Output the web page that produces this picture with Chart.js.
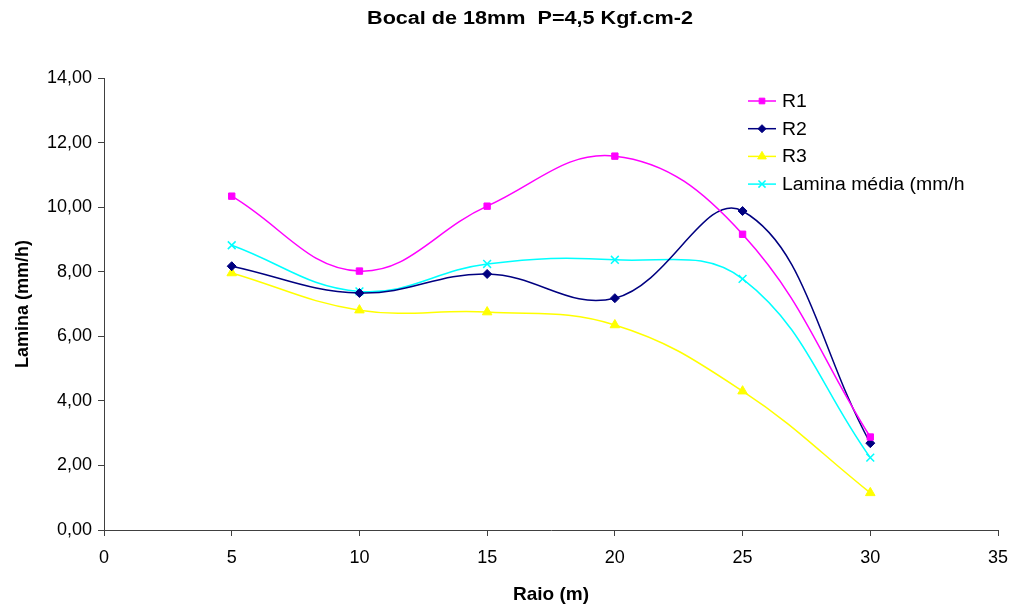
<!DOCTYPE html>
<html>
<head>
<meta charset="utf-8">
<script src="https://cdn.jsdelivr.net/npm/chart.js@4/dist/chart.umd.min.js"></script>
<style>
  html, body { margin: 0; padding: 0; background: #fff; }
  #wrap { width: 1016px; height: 608px; position: relative; }
</style>
</head>
<body>
<div id="wrap"><canvas id="c" width="1016" height="608"></canvas></div>
<script>
const raio = [5, 10, 15, 20, 25, 30];
const r1 = [10.34, 8.02, 10.03, 11.58, 9.16, 2.88];
const r2 = [8.17, 7.34, 7.93, 7.18, 9.88, 2.69];
const r3 = [7.96, 6.81, 6.75, 6.35, 4.30, 1.15];
const media = [8.82, 7.39, 8.24, 8.37, 7.78, 2.24];
const seriesNames = ['R1', 'R2', 'R3', 'Lamina média (mm/h'];
const titleText = 'Bocal de 18mm  P=4,5 Kgf.cm-2';
const xTitle = 'Raio (m)';
const yTitle = 'Lamina (mm/h)';

const FONT = '"Liberation Sans", Arial, sans-serif';

function pts(vals) { return raio.map((x, i) => ({ x: x, y: vals[i] })); }

const styles = [
  { color: '#FF00FF', point: 'rect', radius: 4.5 },
  { color: '#000080', point: 'rectRot', radius: 4.5 },
  { color: '#FFFF00', point: 'triangle', radius: 5.5 },
  { color: '#00FFFF', point: 'crossRot', radius: 5.5 }
];
const allVals = [r1, r2, r3, media];

const datasets = allVals.map((v, i) => ({
  label: seriesNames[i],
  data: pts(v),
  borderColor: styles[i].color,
  backgroundColor: styles[i].color,
  pointBackgroundColor: styles[i].color,
  pointBorderColor: styles[i].color,
  pointStyle: styles[i].point,
  pointRadius: styles[i].radius,
  pointBorderWidth: i === 3 ? 1.5 : 1,
  borderWidth: 1.5,
  tension: 0.4,
  cubicInterpolationMode: 'default',
  fill: false
}));

function stretchedText(ctx, text, cx, cy, sx, align) {
  ctx.save();
  ctx.translate(cx, cy);
  ctx.scale(sx, 1);
  ctx.textAlign = align;
  ctx.fillText(text, 0, 0);
  ctx.restore();
}

const overlay = {
  id: 'overlay',
  afterDraw(chart) {
    const ctx = chart.ctx;
    ctx.save();
    ctx.fillStyle = '#000';
    ctx.font = 'bold 18px ' + FONT;
    ctx.textBaseline = 'middle';
    stretchedText(ctx, titleText, 530, 19, 1.2, 'center');
    const lx = 748, ly = 101, step = 27.7;
    ctx.font = '18px ' + FONT;
    chart.data.datasets.forEach((ds, i) => {
      const y = ly + i * step;
      ctx.strokeStyle = ds.borderColor;
      ctx.lineWidth = 1.5;
      ctx.beginPath();
      ctx.moveTo(lx, y);
      ctx.lineTo(lx + 28, y);
      ctx.stroke();
      ctx.fillStyle = ds.pointBackgroundColor;
      ctx.strokeStyle = ds.pointBorderColor;
      ctx.lineWidth = ds.pointBorderWidth;
      Chart.helpers.drawPoint(ctx, {
        pointStyle: ds.pointStyle,
        radius: ds.pointRadius - 0.5,
        rotation: 0,
        borderWidth: ds.pointBorderWidth
      }, lx + 14, y);
      ctx.fillStyle = '#000';
      stretchedText(ctx, ds.label, lx + 34, y + 1, 1.08, 'left');
    });
    ctx.restore();
  }
};

new Chart(document.getElementById('c'), {
  type: 'line',
  data: { datasets: datasets },
  options: {
    responsive: false,
    animation: false,
    devicePixelRatio: 1,
    layout: { padding: { top: 78, right: 18, left: 0, bottom: 0 } },
    plugins: {
      legend: { display: false },
      title: { display: false },
      tooltip: { enabled: false }
    },
    scales: {
      x: {
        type: 'linear',
        min: 0, max: 35,
        ticks: {
          stepSize: 5,
          color: '#000',
          font: { family: FONT, size: 18 },
          padding: 11,
          maxRotation: 0
        },
        grid: {
          display: true, drawOnChartArea: false, drawTicks: true,
          tickLength: 6, color: '#404040', lineWidth: 1
        },
        border: { display: true, color: '#404040', width: 1 },
        title: {
          display: true, text: xTitle, color: '#000',
          font: { family: FONT, size: 19, weight: 'bold' },
          padding: { top: 0, bottom: 2 }
        },
        afterFit(scale) {
          scale.height = 78;
          scale.paddingLeft = 0;
          scale.paddingRight = 0;
        }
      },
      y: {
        type: 'linear',
        min: 0, max: 14,
        ticks: {
          stepSize: 2,
          color: '#000',
          font: { family: FONT, size: 18 },
          padding: 6,
          callback: v => v.toFixed(2).replace('.', ',')
        },
        grid: {
          display: true, drawOnChartArea: false, drawTicks: true,
          tickLength: 6, color: '#404040', lineWidth: 1
        },
        border: { display: true, color: '#404040', width: 1 },
        title: {
          display: true, text: yTitle, color: '#000',
          font: { family: FONT, size: 18, weight: 'bold' },
          padding: { top: 12, bottom: 0 }
        },
        afterFit(scale) {
          scale.width = 104;
          scale.paddingTop = 0;
          scale.paddingBottom = 0;
        }
      }
    }
  },
  plugins: [overlay]
});
</script>
</body>
</html>
